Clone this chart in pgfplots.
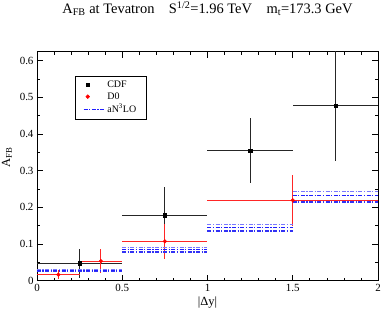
\documentclass[border=0pt]{standalone}
\usepackage{fontspec}
\setmainfont{Liberation Serif}
\usepackage{pgfplots}
\pgfplotsset{compat=1.18}
\definecolor{bandA}{RGB}{30,30,255}
\definecolor{bandB}{RGB}{120,120,255}
\definecolor{bandC}{RGB}{50,50,245}
\pgfplotsset{
  marklegend/.style={legend image code/.code={\path[draw=none,fill=none] (0bp,0bp) -- (21bp,0bp); \draw[##1] plot coordinates {(4bp,0bp)};}},
  linelegend/.style={legend image code/.code={\draw[##1] (0bp,0bp) -- (21bp,0bp);}},
  bmid/.style={color=bandA, solid, dash pattern=on 4bp off 1.5bp on 1.2bp off 1.5bp, line width=1.2bp},
  bup/.style={color=bandB, solid, dash pattern=on 4bp off 1.5bp on 1.2bp off 1.5bp, line width=1.2bp, forget plot},
  bdn/.style={color=bandC, solid, dash pattern=on 4bp off 1.5bp on 1.2bp off 1.5bp, line width=1.2bp, forget plot},
}
\pgfplotstableread{
x y ex ey
0.25 0.047 0.25 0.040
0.75 0.178 0.25 0.076
1.25 0.355 0.25 0.088
1.75 0.477 0.25 0.150
}\cdf
\pgfplotstableread{
x y ex ey
0.125 0.016 0.125 0.013
0.375 0.053 0.125 0.033
0.75 0.107 0.25 0.047
1.5 0.219 0.5 0.070
}\dzero
\begin{document}
\begin{tikzpicture}
\path[use as bounding box] (-37bp,-29.5bp) rectangle (345bp,280.5bp);
\begin{axis}[
  at={(0,0)}, anchor=south west,
  scale only axis, width=341bp, height=229bp,
  xmin=0, xmax=2, ymin=0, ymax=0.625,
  xtick={0,0.5,1,1.5,2}, ytick={0,0.1,0.2,0.3,0.4,0.5,0.6},
  minor x tick num=4, minor y tick num=1,
  tick align=inside, major tick length=6bp, minor tick length=3bp,
  axis line style={line width=0.9bp},
  every tick/.style={black, line width=0.7bp},
  ticklabel style={font=\fontsize{11}{13}\selectfont},
  /pgf/number format/assume math mode=true,
  xlabel={|Δy|},
  ylabel={A\textsubscript{FB}},
  label style={font=\fontsize{12.5}{14}\selectfont},
  xlabel style={at={(axis description cs:0.5,0)}, anchor=base, yshift=-25bp},
  ylabel style={at={(axis description cs:-0.088,0.538)}, anchor=center},
  title={A\textsubscript{FB} at Tevatron\quad S\textsuperscript{1/2}=1.96 TeV\quad m\textsubscript{t}=173.3 GeV},
  title style={at={(axis description cs:0.5,1)}, anchor=base, yshift=31.7bp,
    font=\fontsize{14.5}{16}\selectfont},
  legend style={at={(0.111,0.894)}, anchor=north west, draw=black, line width=0.6bp,
    font=\fontsize{10}{11}\selectfont, row sep=-0.5bp, inner xsep=8bp, inner ysep=3bp},
  legend cell align=left,
]
\addplot[only marks, black, mark=square*, mark size=1.6bp, marklegend,
  error bars/.cd, x dir=both, x explicit, y dir=both, y explicit, error mark=none,
  error bar style={line width=1.1bp, black!85}]
  table[x=x, y=y, x error=ex, y error=ey] {\cdf};
\addlegendentry{CDF}
\addplot[only marks, red, mark=*, mark size=1.8bp, marklegend,
  error bars/.cd, x dir=both, x explicit, y dir=both, y explicit, error mark=none,
  error bar style={line width=1.1bp, red!85}]
  table[x=x, y=y, x error=ex, y error=ey] {\dzero};
\addlegendentry{D0}
\addplot[bmid, linelegend] coordinates {(0,0.027) (0.5,0.027)};
\addlegendentry{aN\textsuperscript{3}LO}
\addplot[bmid, forget plot] coordinates {(0.5,0.084) (1.0,0.084)};
\addplot[bmid, forget plot] coordinates {(1.0,0.144) (1.5,0.144)};
\addplot[bmid, forget plot] coordinates {(1.5,0.232) (2.0,0.232)};
\addplot[bup] coordinates {(0,0.030) (0.5,0.030)};
\addplot[bup] coordinates {(0.5,0.089) (1.0,0.089)};
\addplot[bup] coordinates {(1.0,0.152) (1.5,0.152)};
\addplot[bup] coordinates {(1.5,0.243) (2.0,0.243)};
\addplot[bdn] coordinates {(0,0.024) (0.5,0.024)};
\addplot[bdn] coordinates {(0.5,0.078) (1.0,0.078)};
\addplot[bdn] coordinates {(1.0,0.135) (1.5,0.135)};
\addplot[bdn] coordinates {(1.5,0.214) (2.0,0.214)};
\end{axis}
\end{tikzpicture}
\end{document}
